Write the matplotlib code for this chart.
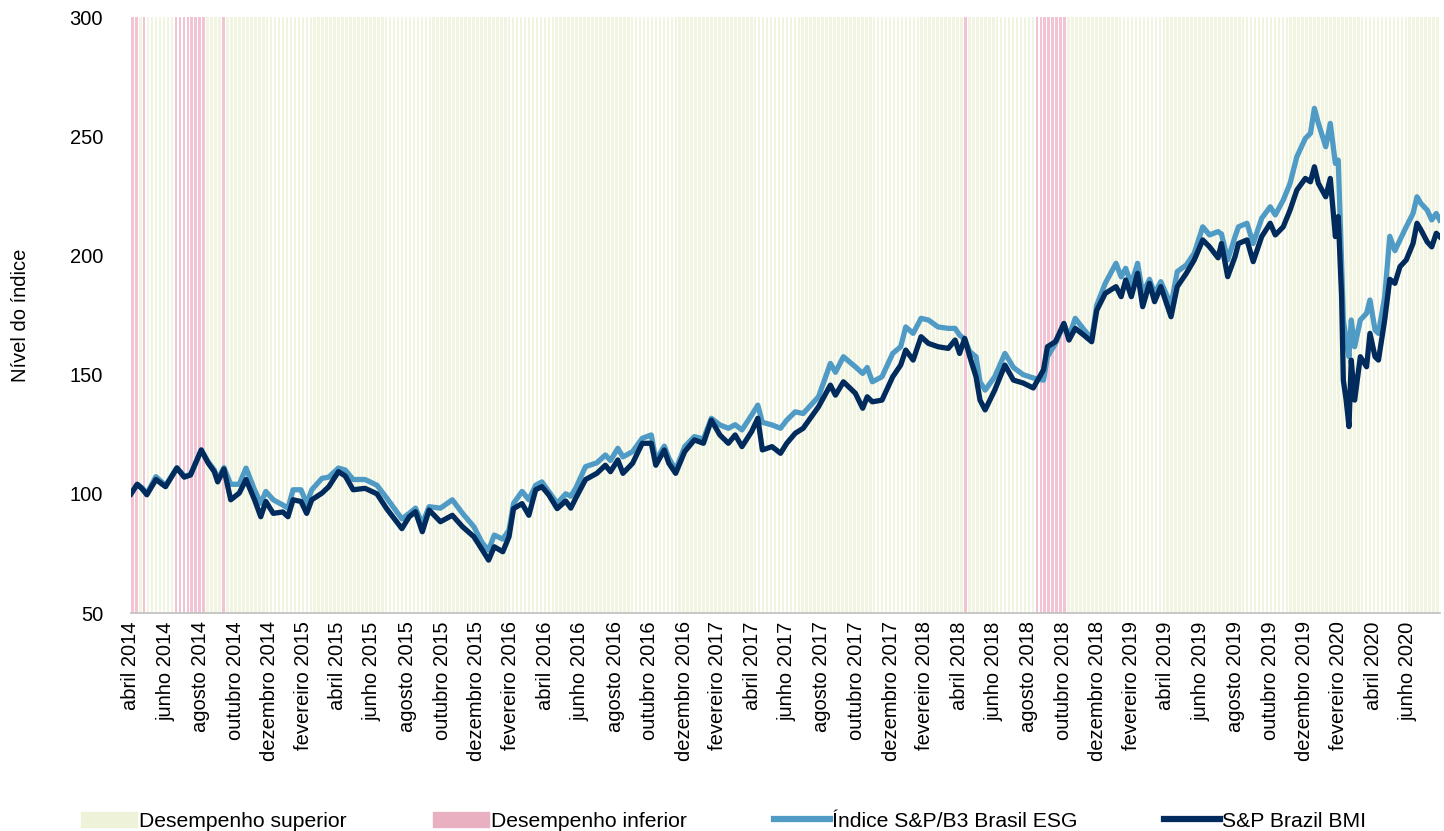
import matplotlib
matplotlib.use("Agg")
import matplotlib.pyplot as plt
import matplotlib.patches as mpatches
import matplotlib.lines as mlines
import pandas as pd

plt.rcParams['font.family'] = ['Liberation Sans', 'DejaVu Sans']

# data (index levels, base 100)
dates = [
    "2014-04-30", "2014-05-11", "2014-05-20", "2014-05-28", "2014-06-13", "2014-06-30", "2014-07-20",
    "2014-08-02", "2014-08-13", "2014-09-01", "2014-09-13", "2014-09-24", "2014-09-30", "2014-10-11",
    "2014-10-23", "2014-11-07", "2014-11-19", "2014-12-04", "2014-12-15", "2014-12-24",
    "2015-01-06", "2015-01-23", "2015-02-01", "2015-02-10", "2015-02-24", "2015-03-06", "2015-03-15",
    "2015-04-02", "2015-04-14", "2015-05-01", "2015-05-13", "2015-05-27", "2015-06-17", "2015-07-08",
    "2015-07-25", "2015-08-21", "2015-09-03", "2015-09-14", "2015-09-26", "2015-10-08", "2015-10-28",
    "2015-11-18", "2015-12-06", "2015-12-26",
    "2016-01-10", "2016-01-21", "2016-01-31", "2016-02-15", "2016-02-26", "2016-03-05", "2016-03-20",
    "2016-04-01", "2016-04-13", "2016-04-24", "2016-05-06", "2016-05-21", "2016-06-05", "2016-06-14",
    "2016-06-23", "2016-07-10", "2016-07-30", "2016-08-14", "2016-08-23", "2016-09-05", "2016-09-14",
    "2016-10-01", "2016-10-18", "2016-11-03", "2016-11-11", "2016-11-26", "2016-12-04", "2016-12-16",
    "2017-01-01", "2017-01-18", "2017-02-03", "2017-02-17", "2017-03-04", "2017-03-19", "2017-03-31",
    "2017-04-12", "2017-04-29", "2017-05-10", "2017-05-18", "2017-06-04", "2017-06-19", "2017-06-30",
    "2017-07-15", "2017-07-29", "2017-08-25", "2017-09-15", "2017-09-24", "2017-10-08", "2017-10-29",
    "2017-11-11", "2017-11-19", "2017-11-28", "2017-12-15",
    "2018-01-03", "2018-01-17", "2018-01-26", "2018-02-08", "2018-02-22", "2018-03-07", "2018-03-24",
    "2018-04-11", "2018-04-23", "2018-05-01", "2018-05-10", "2018-05-19", "2018-05-30", "2018-06-06",
    "2018-06-15", "2018-07-02", "2018-07-20", "2018-08-04", "2018-08-21", "2018-09-08", "2018-09-26",
    "2018-10-03", "2018-10-17", "2018-11-01", "2018-11-10", "2018-11-21", "2018-12-06", "2018-12-20",
    "2018-12-29",
    "2019-01-13", "2019-02-01", "2019-02-10", "2019-02-18", "2019-02-28", "2019-03-11", "2019-03-20",
    "2019-04-01", "2019-04-10", "2019-04-21", "2019-05-09", "2019-05-20", "2019-06-05", "2019-06-19",
    "2019-07-04", "2019-07-16", "2019-07-31", "2019-08-06", "2019-08-17", "2019-08-30", "2019-09-05",
    "2019-09-20", "2019-10-01", "2019-10-16", "2019-10-31", "2019-11-09", "2019-11-23", "2019-12-05",
    "2019-12-17",
    "2020-01-01", "2020-01-10", "2020-01-17", "2020-01-24", "2020-02-06", "2020-02-14", "2020-02-23",
    "2020-02-28", "2020-03-05", "2020-03-08", "2020-03-13", "2020-03-18", "2020-03-22", "2020-03-28",
    "2020-04-07", "2020-04-18", "2020-04-24", "2020-05-03", "2020-05-09", "2020-05-20", "2020-05-29",
    "2020-06-07", "2020-06-16", "2020-06-27", "2020-07-09", "2020-07-16", "2020-07-23", "2020-08-03",
    "2020-08-11", "2020-08-19", "2020-08-25",
]

bmi = [
    100, 104, 102, 99.6, 106, 103, 110.8, 107, 107.9, 118.4, 113, 109.3, 105, 110.4, 97.5, 100.3, 106, 97.5, 90.4, 96.8,
    91.8, 92.4, 90.4, 97.5, 96.8, 91.8, 97.5, 100.3, 103, 109.3, 107.5, 101.7, 102.3, 100, 93.8, 85.4, 90.4, 92.5,
    84.1, 93.2, 88.3, 91, 86.2, 82,
    76.4, 72.2, 77.8, 75.7, 82, 93.8, 95.9, 91, 101.7, 103, 99.6, 93.8, 97, 94, 98.3, 106, 108.6, 112, 109.3,
    114.2, 108.6, 112.8, 121.2, 121.2, 112, 118.4, 112.8, 108.6,
    117.7, 122.6, 121.2, 130.9, 124.7, 121.2, 124.7, 119.8, 126.1, 131.7, 118.4, 119.8, 117, 121.2, 125.4,
    127.5, 136.5, 145.6, 141.4, 147, 142.2, 135.9, 140.7, 138.6, 139.3,
    149.1, 154, 160.3, 156.1, 165.9, 163.1, 161.7, 161, 164.5, 158.9, 165.2, 157.5, 149.1, 139.3, 135.2,
    143.5, 154, 147.7, 146.5, 144.4, 152, 161.7, 163.8, 171.5, 164.5, 169.4, 166.6, 163.8, 177,
    184.1, 186.9, 182.7, 189.7, 182.7, 192.5, 178.5, 188.3, 180.6, 186.9, 174.3, 186.9, 192.5, 198.1,
    206.5, 203.6, 199, 205, 191.1, 199.5, 205, 206.5, 197.4, 207.9, 213.5, 208.6, 212, 219, 227.4,
    232.3, 230.9, 237.2, 230.2, 224.6, 232.3, 207.9, 216.3, 182.7, 147.7, 139.3, 128.2, 156.1, 139.3,
    157.5, 153.3, 167.3, 157.5, 156.1, 172.9, 190, 188.3, 195.3, 198.1, 205, 213.5, 210.7, 205.7,
    203.6, 209.3, 207.9,
]

esg = [
    100, 104, 102.5, 100, 107.2, 103.5, 111, 107.5, 108, 118.4, 113.5, 110, 106, 111, 104, 104, 110.8, 101.7, 96, 101,
    97.5, 95.3, 94, 101.7, 101.7, 96, 101.7, 106.5, 107, 110.8, 110, 106, 106, 103.6, 98.3, 89.5, 91.8, 94,
    87.5, 94.6, 94, 97.5, 91.8, 86.2,
    79.3, 76.4, 82.7, 81, 84.8, 96, 101, 97.5, 103.6, 105, 101, 96, 100, 99, 102.5, 111.4, 113, 116.3, 114,
    119.1, 115.5, 117.7, 123.3, 124.7, 114.2, 120, 115, 110,
    119.8, 124, 123, 131.7, 128.9, 127.5, 129, 126.8, 133, 137.2, 130, 128.9, 127.5, 130.9, 134.4,
    133.7, 140.7, 154.7, 151, 157.5, 153.3, 150.5, 153, 147, 149.1,
    158.9, 161.7, 170, 167.3, 173.6, 172.9, 170, 169.4, 169.4, 166.6, 164.8, 159.6, 157.5, 147, 143.5,
    149.1, 158.9, 153, 150, 148.6, 147.7, 157.5, 163, 171, 166, 173.6, 169, 165, 179.2,
    188.3, 196.7, 191, 194.6, 188, 196.7, 184, 190, 184, 189, 179.2, 193.2, 196, 200.9,
    212, 208.6, 210, 209, 198.1, 207.9, 212, 213.5, 205, 215.6, 220.4, 217, 223.2, 230.2, 241.4,
    249.1, 251.2, 261.7, 255.4, 245.6, 255.4, 238.6, 240, 196.7, 172.9, 164.5, 157.5, 172.9, 161.7,
    172.9, 175.7, 181.3, 168.7, 167.3, 182.7, 208, 202, 206.5, 212, 217.6, 224.6, 221.8, 219,
    214.9, 217.6, 214.9,
]

# periods where the ESG index underperformed (pink stripes)
under_periods = [
    ("2014-04-30", "2014-05-09"), ("2014-05-15", "2014-05-26"),
    ("2014-07-12", "2014-08-09"), ("2014-08-13", "2014-09-03"),
    ("2014-10-08", "2014-10-13"),
    ("2018-05-08", "2018-05-13"),
    ("2018-09-12", "2018-09-26"), ("2018-10-01", "2018-10-17"), ("2018-10-22", "2018-11-04"),
]

month_names = {4: "abril", 6: "junho", 8: "agosto", 10: "outubro", 12: "dezembro", 2: "fevereiro"}

x = pd.to_datetime(dates)
weeks = pd.date_range(x[0], x[-1], freq="7D")
under = pd.Series(False, index=weeks)
for a, b in under_periods:
    under[(weeks >= pd.Timestamp(a)) & (weeks <= pd.Timestamp(b))] = True

green_c = "#f1f4e0"
pink_c = "#f2c4d3"
light_c = "#4f9bc5"
dark_c = "#002b5c"

fig = plt.figure(figsize=(14.44, 8.31), dpi=100)
ax = fig.add_axes([0.0907, 0.2623, 0.9063, 0.7172])

colors = [pink_c if u else green_c for u in under.values]
ax.bar(weeks, 250, bottom=50, width=4.6, color=colors, linewidth=0, align="edge",
       antialiased=False, zorder=1)

ax.plot(x, esg, color=light_c, lw=3.8, zorder=3, solid_joinstyle="round")
ax.plot(x, bmi, color=dark_c, lw=3.8, zorder=4, solid_joinstyle="round")

ax.set_ylim(50, 300)
ax.set_xlim(x[0], x[-1])
ax.set_yticks([50, 100, 150, 200, 250, 300])

ticks = pd.date_range("2014-05-01", "2020-07-01", freq="2MS") - pd.Timedelta(days=1)
ax.set_xticks(ticks)
ax.set_xticklabels([f"{month_names[t.month]} {t.year}" for t in ticks], rotation=90)
ax.tick_params(axis="both", length=0, labelsize=14.5)
ax.tick_params(axis="y", pad=20)
ax.tick_params(axis="x", pad=6)

for s in ["top", "right", "left"]:
    ax.spines[s].set_visible(False)
ax.spines["bottom"].set_color("#bfbfbf")
ax.spines["bottom"].set_linewidth(1.2)
ax.spines["bottom"].set_zorder(5)

ax.set_ylabel("Nível do índice", fontsize=14.5)
ax.yaxis.set_label_coords(-0.077, 0.5)

handles = [
    mpatches.Patch(color="#eef2d8", label="Desempenho superior"),
    mpatches.Patch(color="#e8b0c0", label="Desempenho inferior"),
    mlines.Line2D([], [], color=light_c, lw=4.5, label="Índice S&P/B3 Brasil ESG"),
    mlines.Line2D([], [], color=dark_c, lw=4.5, label="S&P Brazil BMI"),
]
fig.legend(handles=handles, ncol=4, loc="center", bbox_to_anchor=(0.501, 0.012),
           frameon=False, fontsize=15.2, handlelength=2.65, handletextpad=0.1,
           columnspacing=4.1)

fig.savefig("out.png", dpi=100)
